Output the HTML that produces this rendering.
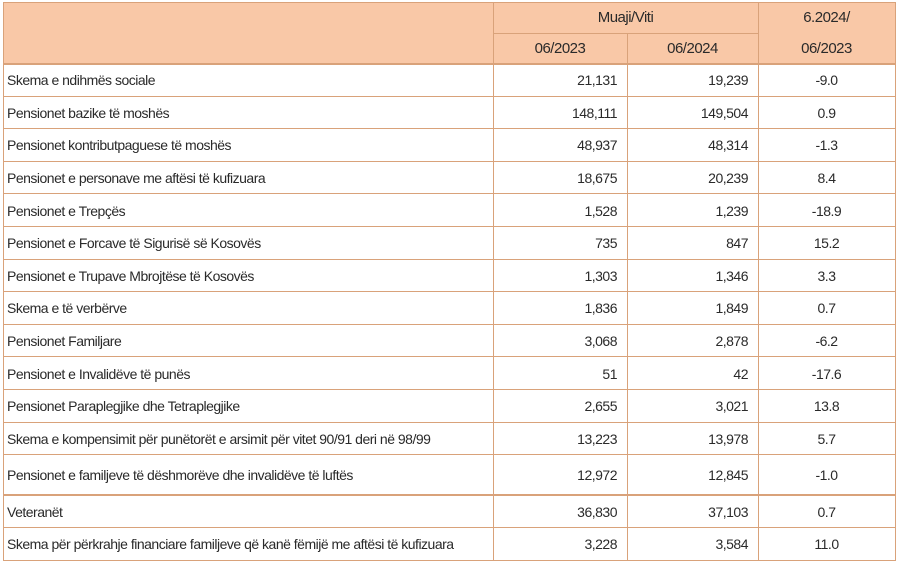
<!DOCTYPE html>
<html><head><meta charset="utf-8"><style>
body{margin:0;background:#fff;width:900px;height:569px;overflow:hidden;font-family:"Liberation Sans",sans-serif;color:#2a2a2a;}
.c{position:absolute;box-sizing:border-box;font-size:14px;white-space:nowrap;display:flex;align-items:center;letter-spacing:-0.5px;}
.h{background:#f9c8a7;justify-content:center;font-size:15px;}
.l{padding-left:4px;}
.r{justify-content:flex-end;padding-right:10px;}
.m{justify-content:center;}
.line{position:absolute;background:#d9a27a;}
</style></head><body>
<div id="t"></div>
<script>
const labels=["Skema e ndihmës sociale","Pensionet bazike të moshës","Pensionet kontributpaguese të moshës","Pensionet e personave me aftësi të kufizuara","Pensionet e Trepçës","Pensionet e Forcave të Sigurisë së Kosovës","Pensionet e Trupave Mbrojtëse të Kosovës","Skema e të verbërve","Pensionet Familjare","Pensionet e Invalidëve të punës","Pensionet Paraplegjike dhe Tetraplegjike","Skema e kompensimit për punëtorët e arsimit për vitet 90/91 deri në 98/99","Pensionet e familjeve të dëshmorëve dhe invalidëve të luftës","Veteranët","Skema për përkrahje financiare familjeve që kanë fëmijë me aftësi të kufizuara"];
const v2023=["21,131","148,111","48,937","18,675","1,528","735","1,303","1,836","3,068","51","2,655","13,223","12,972","36,830","3,228"];
const v2024=["19,239","149,504","48,314","20,239","1,239","847","1,346","1,849","2,878","42","3,021","13,978","12,845","37,103","3,584"];
const change=["-9.0","0.9","-1.3","8.4","-18.9","15.2","3.3","0.7","-6.2","-17.6","13.8","5.7","-1.0","0.7","11.0"];
const t=document.getElementById('t');
const X=[3,493,627,758,895];
function cell(x,y,w,h,cls,txt,name){const d=document.createElement('div');d.className='c '+cls;d.style.left=x+'px';d.style.top=y+'px';d.style.width=w+'px';d.style.height=h+'px';d.textContent=txt;


t.appendChild(d);return d;}
function line(x,y,w,h,name){const d=document.createElement('div');d.className='line';d.style.left=x+'px';d.style.top=y+'px';d.style.width=w+'px';d.style.height=h+'px';


t.appendChild(d);}
cell(X[0],2,X[1]-X[0],62,'h','','header-blank');
cell(X[1],2,X[3]-X[1],31,'h','Muaji/Viti','header-month-year');
cell(X[1],33,X[2]-X[1],31,'h','06/2023','header-2023');
cell(X[2],33,X[3]-X[2],31,'h','06/2024','header-2024');
const hc=cell(X[3],2,X[4]-X[3],62,'h','','header-change');
hc.innerHTML='<div style="text-align:center;line-height:31px">6.2024/<br>06/2023</div>';
let y=64;const tops=[];
for(let i=0;i<labels.length;i++){
 const h=(i===12)?40:(i===13?33:32.6);
 tops.push(y);
 cell(X[0],y,X[1]-X[0],h,'l',labels[i],'row-label');
 cell(X[1],y,X[2]-X[1],h,'r',v2023[i],'value-2023');
 cell(X[2],y,X[3]-X[2],h,'r',v2024[i],'value-2024');
 cell(X[3],y,X[4]-X[3],h,'m',change[i],'value-change');
 y+=h;
}
tops.push(y);
line(X[0],2,X[4]-X[0],1,'table-top-border');
line(X[1],33,X[3]-X[1],1,'header-divider');
tops.forEach((ty,i)=>line(X[0],ty-1,X[4]-X[0],(i===0||i===13)?2:1,'row-border'));
X.forEach((x,i)=>{const top=(i===2)?33:2;line(x,top,1,y-top,'column-border');});
</script>
</body></html>
